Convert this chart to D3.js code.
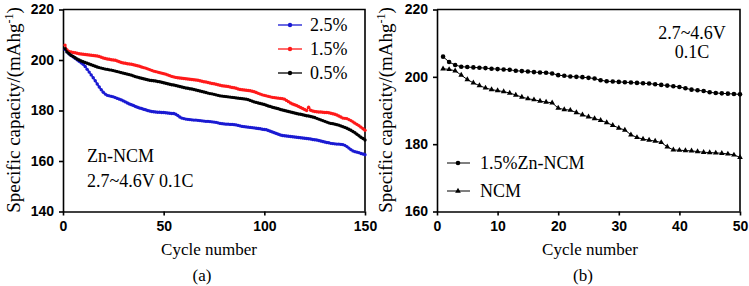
<!DOCTYPE html>
<meta charset="utf-8">
<script src="https://d3js.org/d3.v7.min.js"></script>
<style>body{margin:0;background:#fff;}</style>
<div id="chart"></div>
<script>
// panel (a): capacity of Zn-doped NCM, cycles 1..150
const cyclesA = d3.range(1, 151);
const zn25 = [
  204.2,203.2,202.5,201.8,201.3,200.7,200.1,199.5,198.9,198.3,
  197.4,196.3,195.2,194.1,193.0,191.8,190.5,189.3,188.2,187.2,
  186.5,186.0,185.8,185.6,185.4,185.1,184.8,184.5,184.2,183.8,
  183.4,183.0,182.6,182.3,182.0,181.6,181.3,181.0,180.8,180.5,
  180.3,180.0,179.8,179.6,179.5,179.4,179.3,179.3,179.2,179.2,
  179.1,179.0,178.9,178.8,178.8,178.5,178.0,177.4,177.0,176.8,
  176.6,176.5,176.4,176.3,176.2,176.2,176.1,176.0,175.9,175.8,
  175.7,175.7,175.6,175.5,175.4,175.3,175.1,174.9,174.8,174.7,
  174.6,174.6,174.5,174.5,174.4,174.3,174.1,173.9,173.7,173.6,
  173.5,173.4,173.3,173.2,173.1,173.0,172.9,172.8,172.6,172.5,
  172.4,172.1,171.8,171.5,171.2,170.9,170.6,170.3,170.1,170.0,
  169.9,169.8,169.7,169.6,169.5,169.4,169.3,169.2,169.1,169.0,
  168.9,168.8,168.7,168.5,168.4,168.3,168.1,167.9,167.7,167.5,
  167.3,167.2,167.0,166.9,166.8,166.7,166.7,166.6,166.5,166.2,
  165.7,165.1,164.5,164.0,163.7,163.5,163.3,163.0,162.8,162.5];
const zn15 = [
  205.9,204.0,203.4,203.2,203.0,202.9,202.7,202.5,202.4,202.3,
  202.2,202.1,202.0,201.9,201.8,201.7,201.6,201.4,201.1,200.8,
  200.6,200.4,200.3,200.1,200.0,199.9,199.6,199.3,199.0,198.8,
  198.7,198.5,198.4,198.3,198.1,197.9,197.7,197.5,197.2,197.0,
  196.8,196.5,196.2,195.9,195.6,195.4,195.2,195.0,194.8,194.6,
  194.4,194.1,193.8,193.5,193.3,193.1,193.0,192.9,192.8,192.7,
  192.6,192.5,192.4,192.3,192.2,192.1,192.0,191.8,191.6,191.4,
  191.3,191.1,190.9,190.7,190.6,190.4,190.2,190.0,189.8,189.7,
  189.6,189.5,189.3,189.1,189.0,188.8,188.5,188.3,188.2,188.1,
  188.0,187.9,187.8,187.6,187.4,187.1,186.8,186.5,186.2,186.0,
  185.8,185.6,185.4,185.2,185.1,185.0,184.9,184.8,184.7,184.5,
  184.0,183.5,183.0,182.6,182.3,182.0,181.6,181.2,180.8,180.4,
  180.0,181.3,180.1,179.8,179.6,179.5,179.4,179.4,179.3,179.2,
  179.2,179.1,178.9,178.7,178.5,178.2,177.8,177.4,177.0,176.9,
  176.8,176.4,176.0,175.5,175.0,174.5,174.0,173.4,172.8,172.2];
const zn05 = [
  204.5,203.2,202.5,201.9,201.4,200.9,200.4,200.0,199.6,199.3,
  199.0,198.7,198.4,198.1,197.8,197.5,197.2,197.0,196.8,196.6,
  196.4,196.3,196.1,196.0,195.8,195.6,195.4,195.2,195.0,194.8,
  194.6,194.4,194.2,194.0,193.7,193.4,193.2,193.0,192.8,192.6,
  192.4,192.2,192.0,191.9,191.8,191.7,191.5,191.4,191.2,191.0,
  190.8,190.6,190.4,190.2,190.1,189.9,189.7,189.5,189.3,189.1,
  188.9,188.8,188.6,188.5,188.3,188.1,187.9,187.7,187.5,187.3,
  187.1,186.9,186.7,186.6,186.4,186.2,186.0,185.8,185.7,185.6,
  185.5,185.4,185.3,185.2,185.1,185.0,184.9,184.8,184.7,184.6,
  184.5,184.3,184.0,183.7,183.4,183.2,183.0,182.8,182.6,182.4,
  182.1,181.8,181.6,181.3,181.1,180.9,180.7,180.4,180.2,180.0,
  179.8,179.6,179.4,179.2,179.0,178.8,178.6,178.5,178.3,178.1,
  177.9,177.8,177.6,177.4,177.2,176.9,176.6,176.3,176.0,175.7,
  175.4,175.1,174.9,174.8,174.6,174.4,174.2,173.9,173.6,173.3,
  173.0,172.6,172.2,171.7,171.2,170.6,170.0,169.4,168.9,168.3];

// panel (b): 1.5%Zn-NCM vs NCM, cycles 1..50
const cyclesB = d3.range(1, 51);
const znNcm = [
  206.0,204.4,203.5,203.0,202.9,202.8,202.7,202.6,202.4,202.3,
  202.2,202.1,201.8,201.7,201.6,201.4,201.3,201.2,201.0,200.5,
  200.3,200.1,200.0,199.9,199.7,199.5,199.0,198.7,198.6,198.5,
  198.4,198.3,198.2,198.1,198.0,197.8,197.6,197.4,197.2,197.0,
  196.6,196.2,196.0,195.8,195.4,195.2,195.1,195.0,194.9,194.8];
const ncm = [
  202.4,202.2,201.8,200.5,199.2,198.2,197.4,196.7,196.2,195.9,
  195.6,195.2,194.6,194.0,193.5,193.2,192.8,192.5,192.3,190.7,
  190.3,190.1,189.4,188.7,188.1,187.6,187.1,186.4,185.6,184.8,
  184.2,182.8,182.0,181.5,181.2,180.9,180.5,179.2,178.3,178.2,
  178.1,178.0,177.8,177.6,177.5,177.4,177.3,177.1,176.8,176.1];

const ticksAx = [0,50,100,150], ticksAy = [140,160,180,200,220];
const ticksBx = [0,10,20,30,40,50], ticksBy = [160,180,200,220];
const labelsA = ["2.5%","1.5%","0.5%"], colorsA = ["#1a1ad2","#ff1a1a","#000"];
const labelsB = ["1.5%Zn-NCM","NCM"];

const W=749, H=286, topY=9.5, botY=211.5;
const SERIF='"Liberation Serif","Times New Roman",serif';
const SANS='"Liberation Sans",Arial,sans-serif';

const svg=d3.select("#chart").append("svg")
    .attr("width",W).attr("height",H)
    .style("background","#fff");

function label(x,y,txt,size){
  return svg.append("text").attr("x",x).attr("y",y)
    .style("font-family",SERIF).style("font-size",size+"px").attr("fill","#000").text(txt);
}

function frame(x,y,xt,yt){
  const g=svg.append("g");
  g.append("g").attr("transform",`translate(0,${botY})`)
    .call(d3.axisBottom(x).tickValues(xt).tickSize(4).tickSizeOuter(0).tickPadding(6));
  g.append("g").attr("transform",`translate(${x.range()[0]},0)`)
    .call(d3.axisLeft(y).tickValues(yt).tickSize(4).tickSizeOuter(0).tickPadding(5));
  g.selectAll(".domain,.tick line").attr("stroke","#000").attr("stroke-width",1.6);
  g.selectAll(".tick text").style("font-family",SANS).style("font-weight","bold")
    .style("font-size","14px").attr("fill","#000");
  // top and right border
  g.append("path")
    .attr("d",`M${x.range()[0]},${topY}H${x.range()[1]}V${botY}`)
    .attr("fill","none").attr("stroke","#000").attr("stroke-width",1.6);
  return g;
}

function titles(cx, xmid, tag){
  const t=svg.append("text")
    .attr("transform",`translate(${cx},110)rotate(-90)`)
    .attr("text-anchor","middle").attr("dy","0.35em")
    .style("font-family",SERIF).style("font-size","19px");
  t.append("tspan").text("Specific capacity/(mAhg");
  t.append("tspan").attr("dy",-7).style("font-size","12px").text("-1");
  t.append("tspan").attr("dy",7).text(")");
  label(xmid,255,"Cycle number",17).attr("text-anchor","middle");
  label(xmid-7,281,tag,17).attr("text-anchor","middle");
}

// ---- panel (a)
const xA=d3.scaleLinear().domain([0,150]).range([63,365]);
const yA=d3.scaleLinear().domain([140,220]).range([botY,topY]);
frame(xA,yA,ticksAx,ticksAy);
titles(13,209,"(a)");

[zn25,zn15,zn05].forEach((s,i)=>{
  const pts=s.map((v,j)=>[cyclesA[j],v]);
  const g=svg.append("g");
  g.append("path").datum(pts)
    .attr("d",d3.line().x(d=>xA(d[0])).y(d=>yA(d[1])))
    .attr("fill","none").attr("stroke",colorsA[i]).attr("stroke-width",1.6);
  g.selectAll("circle").data(pts).join("circle")
    .attr("cx",d=>xA(d[0])).attr("cy",d=>yA(d[1])).attr("r",1.7)
    .attr("fill",colorsA[i]);
});

labelsA.forEach((l,i)=>{
  const y=25+i*24;
  svg.append("line").attr("x1",278).attr("x2",302).attr("y1",y).attr("y2",y)
    .attr("stroke",colorsA[i]).attr("stroke-width",1.3);
  svg.append("circle").attr("cx",290).attr("cy",y).attr("r",2.2).attr("fill",colorsA[i]);
  label(310,y,l,18).attr("dy","0.35em");
});
label(87,162,"Zn-NCM",18);
label(87,187,"2.7~4.6V 0.1C",18);

// ---- panel (b)
const xB=d3.scaleLinear().domain([0,50]).range([437,740]);
const yB=d3.scaleLinear().domain([160,220]).range([botY,topY]);
frame(xB,yB,ticksBx,ticksBy);
titles(385,590,"(b)");

const tri=d3.symbol().type(d3.symbolTriangle).size(14);
const gz=svg.append("g"), gn=svg.append("g");
const ptsZ=znNcm.map((v,j)=>[cyclesB[j],v]), ptsN=ncm.map((v,j)=>[cyclesB[j],v]);
const lineB=d3.line().x(d=>xB(d[0])).y(d=>yB(d[1]));
gz.append("path").datum(ptsZ).attr("d",lineB).attr("fill","none").attr("stroke","#000").attr("stroke-width",1);
gz.selectAll("circle").data(ptsZ).join("circle")
  .attr("cx",d=>xB(d[0])).attr("cy",d=>yB(d[1])).attr("r",2.3).attr("fill","#000");
gn.append("path").datum(ptsN).attr("d",lineB).attr("fill","none").attr("stroke","#000").attr("stroke-width",1);
gn.selectAll("path.m").data(ptsN).join("path").attr("class","m")
  .attr("d",tri).attr("transform",d=>`translate(${xB(d[0])},${yB(d[1])})`).attr("fill","#000");

labelsB.forEach((l,i)=>{
  const y=163+i*28;
  svg.append("line").attr("x1",447).attr("x2",470).attr("y1",y).attr("y2",y)
    .attr("stroke","#000").attr("stroke-width",1);
  if(i===0) svg.append("circle").attr("cx",458).attr("cy",y).attr("r",2.3).attr("fill","#000");
  else svg.append("path").attr("d",tri).attr("transform",`translate(458,${y})`).attr("fill","#000");
  label(480,y,l,18).attr("dy","0.35em");
});
label(692,39,"2.7~4.6V",18).attr("text-anchor","middle");
label(692,58,"0.1C",18).attr("text-anchor","middle");
</script>
